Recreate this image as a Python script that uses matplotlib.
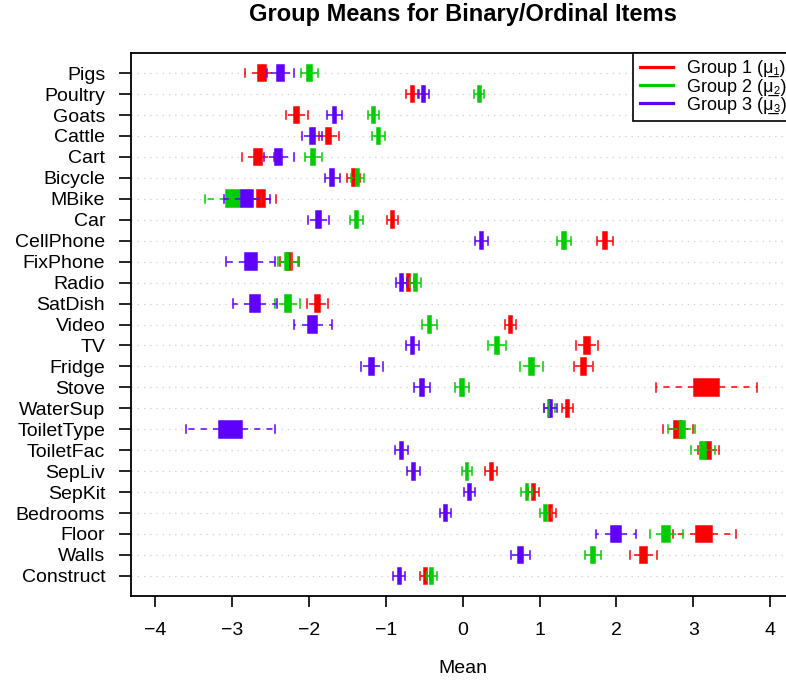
import numpy as np
import matplotlib
matplotlib.use("Agg")
import matplotlib.pyplot as plt
from matplotlib.lines import Line2D

plt.rcParams["font.family"] = ["Liberation Sans", "DejaVu Sans"]

# items, top to bottom
items = ["Pigs", "Poultry", "Goats", "Cattle", "Cart", "Bicycle", "MBike", "Car",
         "CellPhone", "FixPhone", "Radio", "SatDish", "Video", "TV", "Fridge",
         "Stove", "WaterSup", "ToiletType", "ToiletFac", "SepLiv", "SepKit",
         "Bedrooms", "Floor", "Walls", "Construct"]

# posterior means and sds per group
mean_g1 = [-2.61, -0.653, -2.16, -1.743, -2.662, -1.417, -2.62, -0.913,
           1.857, -2.25, -0.705, -1.888, 0.626, 1.617, 1.577,
           3.17, 1.367, 2.80, 3.20, 0.37, 0.923,
           1.139, 3.14, 2.355, -0.486]
sd_g1 = [0.082, 0.030, 0.053, 0.048, 0.079, 0.030, 0.071, 0.028,
         0.039, 0.047, 0.025, 0.052, 0.027, 0.055, 0.046,
         0.245, 0.026, 0.072, 0.052, 0.029, 0.027,
         0.026, 0.152, 0.064, 0.025]

mean_g2 = [-1.99, 0.218, -1.163, -1.095, -1.943, -1.368, -2.983, -1.381,
           1.32, -2.272, -0.614, -2.276, -0.432, 0.448, 0.895,
           -0.009, 1.125, 2.845, 3.125, 0.058, 0.838,
           1.077, 2.648, 1.694, -0.405]
sd_g2 = [0.042, 0.024, 0.026, 0.030, 0.041, 0.032, 0.135, 0.032,
         0.034, 0.050, 0.025, 0.060, 0.035, 0.044, 0.056,
         0.035, 0.026, 0.065, 0.059, 0.025, 0.027,
         0.026, 0.080, 0.038, 0.025]

mean_g3 = [-2.37, -0.507, -1.667, -1.957, -2.393, -1.693, -2.805, -1.873,
           0.248, -2.757, -0.79, -2.70, -1.949, -0.653, -1.184,
           -0.531, 1.146, -3.02, -0.792, -0.64, 0.088,
           -0.224, 1.998, 0.756, -0.826]
sd_g3 = [0.065, 0.028, 0.036, 0.048, 0.072, 0.038, 0.110, 0.050,
         0.030, 0.117, 0.027, 0.105, 0.091, 0.033, 0.053,
         0.039, 0.032, 0.215, 0.032, 0.030, 0.025,
         0.028, 0.097, 0.046, 0.030]

# underlined mu with a subscript index
group_labels = ["Group 1 (\u03bc\u0332\u2081)",
                "Group 2 (\u03bc\u0332\u2082)",
                "Group 3 (\u03bc\u0332\u2083)"]
group_colors = ["#FF0000", "#00CD00", "#5F00FF"]

# quartile / whisker offsets of a normal posterior (in sd units)
Q_Z = 0.6745
W_Z = Q_Z + 1.5 * 2 * Q_Z

fig = plt.figure(figsize=(7.86, 6.82), dpi=100)
ax = fig.add_axes([131 / 786, 86 / 682, 663 / 786, 543 / 682])

ypos = np.arange(len(items), 0, -1)

for h in ypos:
    ax.axhline(h, color="#CFCFCF", lw=0.9, ls=(0, (1, 4)), zorder=0)

for means, sds, col in zip([mean_g1, mean_g2, mean_g3],
                           [sd_g1, sd_g2, sd_g3], group_colors):
    stats = [dict(med=m, q1=m - Q_Z * s, q3=m + Q_Z * s,
                  whislo=m - W_Z * s, whishi=m + W_Z * s)
             for m, s in zip(means, sds)]
    ax.bxp(stats, positions=ypos, widths=0.8, capwidths=0.4,
           orientation="horizontal", patch_artist=True, showfliers=False,
           manage_ticks=False,
           boxprops=dict(facecolor=col, edgecolor=col, lw=1.1),
           whiskerprops=dict(color=col, lw=1.1, ls=(0, (4, 4))),
           capprops=dict(color=col, lw=1.1),
           medianprops=dict(color=col, lw=1.1))

ax.set_xlim(-4.313, 4.31)
ax.set_ylim(0.04, 25.96)
ax.set_yticks(ypos)
ax.set_yticklabels(items, fontsize=14)
ax.set_xticks(range(-4, 5))
ax.set_xticklabels([f"{v}".replace("-", "\u2212") for v in range(-4, 5)], fontsize=14)
ax.tick_params(axis="y", length=8.6, width=1.2, pad=10)
ax.tick_params(axis="x", length=8, width=1.2, pad=11)
for sp in ax.spines.values():
    sp.set_linewidth(1.3)

ax.set_title("Group Means for Binary/Ordinal Items", fontsize=17,
             fontweight="bold", pad=23)
ax.set_xlabel("Mean", fontsize=14, va="center")
ax.xaxis.set_label_coords(0.5, -0.133)

handles = [Line2D([], [], color=c, lw=2.3) for c in group_colors]
leg = ax.legend(handles, group_labels, loc="upper right", borderaxespad=0,
                fancybox=False, edgecolor="black", framealpha=1, fontsize=13,
                handlelength=1.8, handletextpad=0.8, labelspacing=0.05,
                borderpad=0.4)
leg.get_frame().set_linewidth(1.2)

fig.savefig("out.png", dpi=100)
